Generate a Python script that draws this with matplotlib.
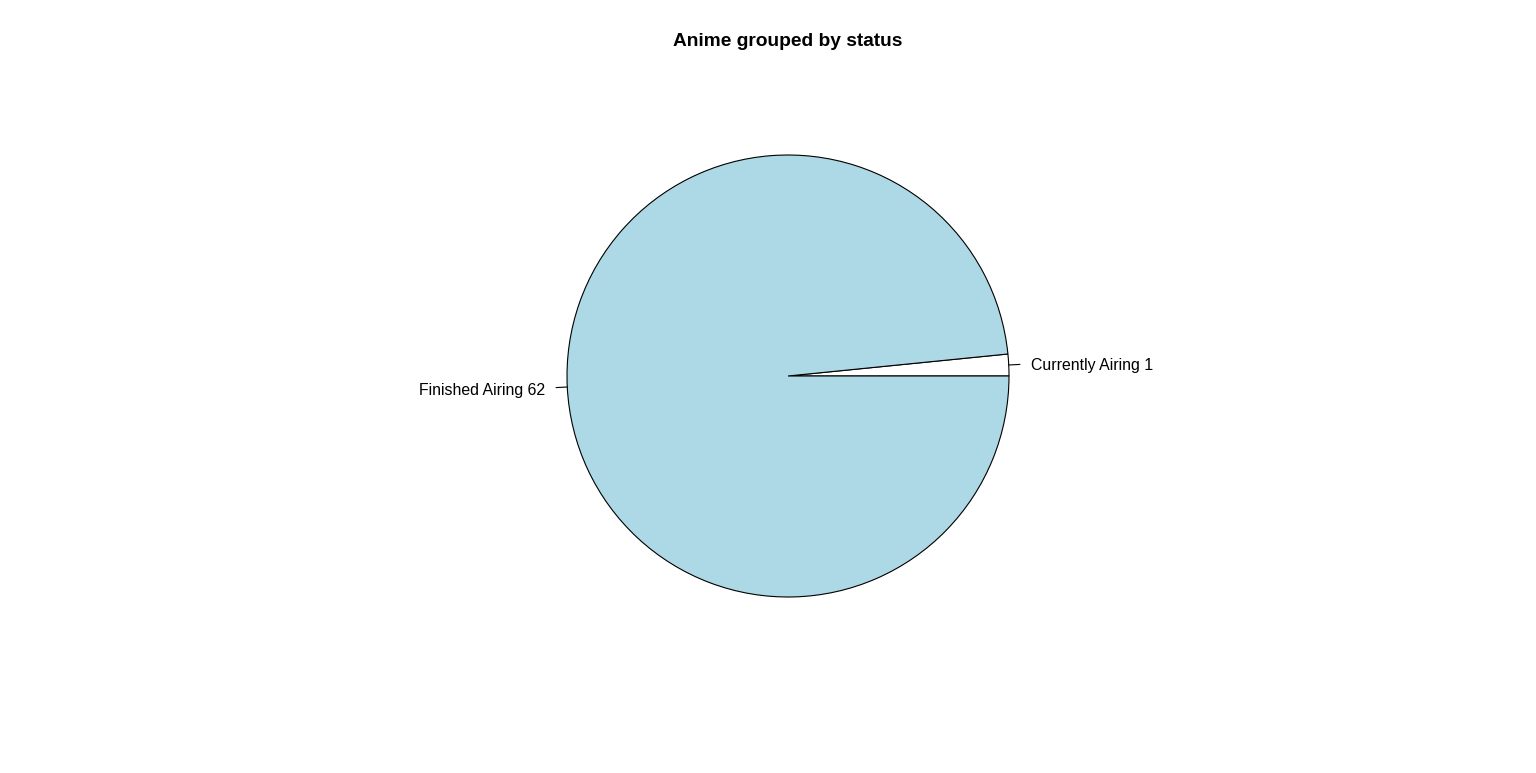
import numpy as np
import matplotlib.pyplot as plt

# Data
statuses = ['Currently Airing', 'Finished Airing']
counts = [1, 62]
slice_colors = ['white', '#ADD8E6']

plt.rcParams['font.family'] = ['Liberation Sans', 'DejaVu Sans']

W, H = 1536, 773
fig = plt.figure(figsize=(W / 100, H / 100), dpi=100)

# Pie centre and radius in pixels
cx, cy, rad = 788, 376, 221
lim = 1.6
ax = fig.add_axes([(cx - lim * rad) / W, 1 - (cy + lim * rad) / H,
                   2 * lim * rad / W, 2 * lim * rad / H])
ax.axis('off')

ax.pie(counts, colors=slice_colors, startangle=0, counterclock=True,
       radius=1, center=(0, 0), frame=False,
       wedgeprops={'edgecolor': 'black', 'linewidth': 0.8})
ax.set_xlim(-lim, lim)
ax.set_ylim(-lim, lim)

# R-style labels with short tick lines
fracs = np.cumsum([0] + counts) / sum(counts)
for i, (name, n) in enumerate(zip(statuses, counts)):
    mid = np.pi * (fracs[i] + fracs[i + 1])
    c, s = np.cos(mid), np.sin(mid)
    ax.plot([c, 1.05 * c], [s, 1.05 * s], color='black', lw=0.8)
    ax.text(1.1 * c, 1.1 * s - 0.009, f'{name} {n}',
            ha='left' if c > 0 else 'right', va='center', fontsize=11.4)

fig.text(788 / W, 1 - 42 / H, 'Anime grouped by status', ha='center',
         va='center', fontsize=13.8, fontweight='bold')

fig.savefig('out.png', dpi=100)
